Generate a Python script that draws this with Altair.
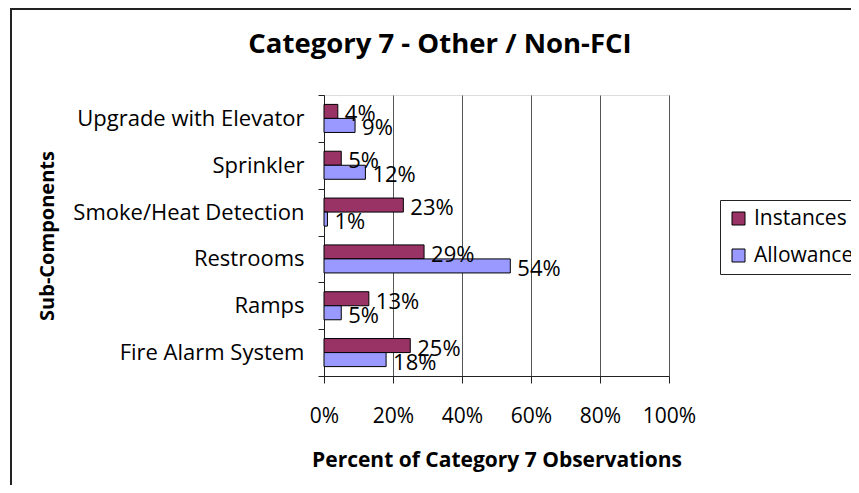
import altair as alt
import pandas as pd

categories = ["Upgrade with Elevator", "Sprinkler", "Smoke/Heat Detection",
              "Restrooms", "Ramps", "Fire Alarm System"]
series = ["Instances", "Allowance"]
instances = [4, 5, 23, 29, 13, 25]
allowance = [9, 12, 1, 54, 5, 18]
x_ticks = [0, 20, 40, 60, 80, 100]
colors = ["#993366", "#9999FF"]
chart_title = "Category 7 - Other / Non-FCI"

rows = []
for c, i, a in zip(categories, instances, allowance):
    rows.append({"category": c, "series": series[0], "value": i})
    rows.append({"category": c, "series": series[1], "value": a})
df = pd.DataFrame(rows)

FONT = "Open Sans"
PLOT_W, PLOT_H = 345, 281

y_enc = alt.Y(
    "category:N", sort=categories,
    scale=alt.Scale(paddingInner=0, paddingOuter=0),
    axis=alt.Axis(
        title="Sub-Components", tickBand="extent", grid=False, labelLimit=0,
        labelFont=FONT, labelFontSize=22, labelColor="black", labelPadding=14,
        tickSize=6, tickColor="#222", domainColor="#222",
        titleFont=FONT, titleFontSize=20, titleFontWeight="bold", titleColor="black",
        titleX=-277, titleY=140.5, titleAngle=270, titleBaseline="middle", titleAlign="center",
    ),
)
yoff = alt.YOffset("series:N", sort=series,
                   scale=alt.Scale(paddingOuter=0.67, paddingInner=0))
x_enc = alt.X(
    "value:Q", scale=alt.Scale(domain=[0, 100]),
    axis=alt.Axis(
        values=x_ticks, labelExpr="datum.value + '%'",
        labelOverlap=False, labelFlush=False,
        title="Percent of Category 7 Observations",
        grid=True, gridColor="#555", gridOpacity=1,
        tickSize=7, tickColor="#222", domainColor="#222",
        labelFont=FONT, labelFontSize=21, labelColor="black", labelPadding=22,
        titleFont=FONT, titleFontSize=21, titleFontWeight="bold", titleColor="black",
        titleY=90, titleBaseline="alphabetic",
    ),
)
color_enc = alt.Color(
    "series:N", sort=series,
    scale=alt.Scale(domain=series, range=colors),
    legend=alt.Legend(
        title=None, orient="none", legendX=396, legendY=105,
        padding=8, strokeColor="#222", fillColor="white",
        symbolType="square", symbolSize=169, symbolStrokeColor="black",
        symbolStrokeWidth=1, symbolOpacity=1,
        labelFont=FONT, labelFontSize=21, labelColor="black", labelLimit=0,
        labelOffset=5, rowPadding=15,
    ),
)

base = alt.Chart(df)
bars = base.mark_bar(stroke="black", strokeWidth=1).encode(
    y=y_enc, yOffset=yoff, x=x_enc, color=color_enc,
)
labels = base.transform_calculate(lab="datum.value + '%'").mark_text(
    align="left", baseline="middle", dx=7, dy=3, font=FONT, fontSize=22, color="black",
).encode(y=alt.Y("category:N", sort=categories), yOffset=alt.YOffset("series:N", sort=series),
         x=alt.X("value:Q"), text="lab:N")

title_df = pd.DataFrame({"t": [chart_title]})
title_mark = alt.Chart(title_df).mark_text(
    align="center", baseline="alphabetic", font=FONT, fontSize=27.5,
    fontWeight="bold", color="black",
).encode(x=alt.value(116), y=alt.value(-42), text="t:N")

frame = alt.Chart(pd.DataFrame({"k": [0]})).mark_rect(
    fillOpacity=0, stroke="#222", strokeWidth=2,
).encode(x=alt.value(-313), x2=alt.value(700), y=alt.value(-86), y2=alt.value(600))

chart = alt.layer(bars, labels, title_mark, frame).properties(
    width=PLOT_W, height=PLOT_H,
    autosize=alt.AutoSizeParams(type="none"),
    padding={"left": 316, "top": 87, "right": 182, "bottom": 109},
).configure_view(
    stroke="#999", fill="#FFFFCC",
).configure(background="white")

chart.save("out.html", embed_options={"renderer": "svg", "actions": False})
